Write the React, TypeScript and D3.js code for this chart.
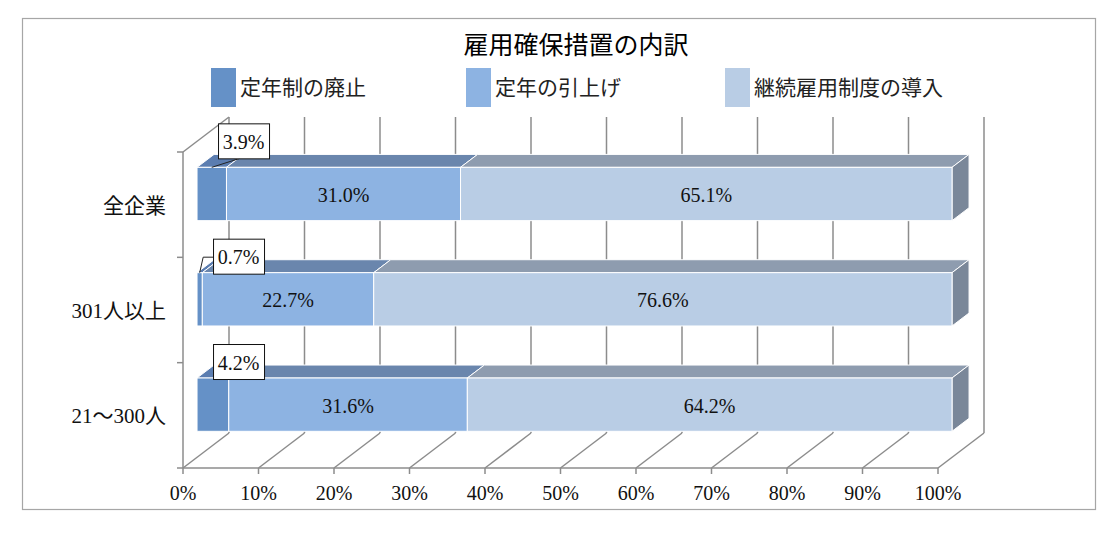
import React from "react";
import * as d3 from "d3";

// 雇用確保措置の内訳 (%)
const categories = ["全企業", "301人以上", "21～300人"];
const seriesNames = ["定年制の廃止", "定年の引上げ", "継続雇用制度の導入"];
const abolition = [3.9, 0.7, 4.2];
const raiseAge = [31.0, 22.7, 31.6];
const continued = [65.1, 76.6, 64.2];
const xTicks = [0, 10, 20, 30, 40, 50, 60, 70, 80, 90, 100];

const W = 1115;
const H = 533;
const FONT = '"Liberation Serif", "Noto Sans CJK JP", serif';

const frontColors = ["#6591c7", "#8db3e2", "#b9cde5"];
const topColors = ["#5b7db0", "#6a86ad", "#8e9caf"];
const sideColor = "#7a8799";
const gridColor = "#8c8c8c";

// 3D box: front plane, depth offset to the back wall
const DX = 46;
const DY = -35;
const T0 = 0.305; // bar front depth
const T1 = 0.675; // bar back depth

const App = () => {
  const x = d3.scaleLinear().domain([0, 100]).range([183, 938]);
  const y = d3.scaleBand<string>().domain(categories).range([152, 468]);
  const floorY = 468;
  const topY = 152;

  const series = [abolition, raiseAge, continued];
  const rows = categories.map((c, i) => {
    let acc = 0;
    return series.map((s, k) => {
      const seg = {cat: c, k, v: s[i], x0: acc, x1: acc + s[i]};
      acc += s[i];
      return seg;
    });
  });

  const barH = y.bandwidth() * 0.506;
  const bdx = DX * (T1 - T0);
  const bdy = DY * (T1 - T0);

  const line = d3.line();
  const poly = (pts: [number, number][]) => line(pts) + "Z";

  return (
    <svg width={W} height={H} style={{display: "block", position: "absolute", left: 0, top: 0}}>
      <rect x={0} y={0} width={W} height={H} fill="#fff"/>
      <rect x={22.5} y={18.5} width={1073} height={491} fill="none" stroke="#a6a6a6" strokeWidth={1.2}/>

      <text x={576} y={45} textAnchor="middle" dominantBaseline="central" fontFamily={FONT} fontSize={25}>
        雇用確保措置の内訳
      </text>

      {/* legend */}
      {seriesNames.map((n, k) => {
        const lx = [211, 466, 725][k];
        return (
          <g key={n}>
            <rect x={lx} y={68} width={25} height={39} fill={frontColors[k]}/>
            <text x={lx + 29} y={88} dominantBaseline="central" fontFamily={FONT} fontSize={21} fill="#222">{n}</text>
          </g>
        );
      })}

      {/* walls and gridlines */}
      <g stroke={gridColor} strokeWidth={1.5} fill="none">
        {xTicks.map(t => (
          <g key={t}>
            <line x1={x(t) + DX} x2={x(t) + DX} y1={topY + DY} y2={floorY + DY}/>
            <line x1={x(t) + DX} x2={x(t)} y1={floorY + DY} y2={floorY}/>
            <line x1={x(t)} x2={x(t)} y1={floorY} y2={floorY + 6}/>
          </g>
        ))}
        <line x1={x(0)} x2={x(100)} y1={floorY} y2={floorY}/>
        <line x1={x(0)} x2={x(0)} y1={topY} y2={floorY}/>
        <line x1={x(0)} x2={x(0) + DX} y1={topY} y2={topY + DY}/>
        {[0, 1, 2, 3].map(i => {
          const yy = topY + i * y.bandwidth();
          return <line key={i} x1={x(0) - 6} x2={x(0)} y1={yy} y2={yy}/>;
        })}
      </g>

      {/* x tick labels */}
      {xTicks.map(t => (
        <text key={t} x={x(t)} y={500} textAnchor="middle" fontFamily={FONT} fontSize={20} fill="#111">{t}%</text>
      ))}

      {/* category labels */}
      {categories.map(c => (
        <text key={c} x={166} y={(y(c) as number) + y.bandwidth() / 2 + 1} textAnchor="end"
              dominantBaseline="central" fontFamily={FONT} fontSize={21} fill="#111">{c}</text>
      ))}

      {/* bars */}
      {rows.map((segs, i) => {
        const cy = (y(categories[i]) as number) + y.bandwidth() / 2 + DY * T0;
        const yt = cy - barH / 2;
        const yb = cy + barH / 2;
        const off = DX * T0;
        const last = segs[segs.length - 1];
        const xr = x(last.x1) + off;
        return (
          <g key={i} stroke="#fff" strokeWidth={1}>
            {segs.map(s => {
              const a = x(s.x0) + off;
              const b = x(s.x1) + off;
              return (
                <path key={"t" + s.k} fill={topColors[s.k]}
                      d={poly([[a, yt], [b, yt], [b + bdx, yt + bdy], [a + bdx, yt + bdy]])}/>
              );
            })}
            <path fill={sideColor} d={poly([[xr, yt], [xr + bdx, yt + bdy], [xr + bdx, yb + bdy], [xr, yb]])}/>
            {segs.map(s => {
              const a = x(s.x0) + off;
              const b = x(s.x1) + off;
              return <rect key={"f" + s.k} x={a} y={yt} width={b - a} height={yb - yt} fill={frontColors[s.k]}/>;
            })}
          </g>
        );
      })}

      {/* data labels */}
      {rows.map((segs, i) => {
        const cy = (y(categories[i]) as number) + y.bandwidth() / 2 + DY * T0;
        const yt = cy - barH / 2;
        const off = DX * T0;
        return (
          <g key={i}>
            {segs.map(s => {
              const a = x(s.x0) + off;
              const b = x(s.x1) + off;
              const label = s.v.toFixed(1) + "%";
              if (s.k > 0) {
                return (
                  <text key={s.k} x={(a + b) / 2} y={cy + 1} textAnchor="middle" dominantBaseline="central"
                        fontFamily={FONT} fontSize={20} fill="#111">{label}</text>
                );
              }
              // small first segment: boxed label above the bar
              const nudge = i === 0 ? [5, -10] : [0, 0];
              const bw = 51, bh = 35;
              const bx = a + 16 + nudge[0];
              const by = yt + 1 + nudge[1] - bh;
              const mid = (a + b) / 2;
              let leader = null;
              if (i === 0) leader = <path d={line([[mid, yt], [bx + 22, by + bh]]) as string} stroke="#222" fill="none"/>;
              if (i === 1) leader = <path d={line([[mid, yt], [mid + 3.5, by + bh / 2 + 1], [bx, by + bh / 2 + 1]]) as string} stroke="#222" fill="none"/>;
              return (
                <g key={s.k}>
                  {leader}
                  <rect x={bx + 0.5} y={by + 0.5} width={bw} height={bh} fill="#fff" stroke="#111" strokeWidth={1}/>
                  <text x={bx + bw / 2} y={by + bh / 2 + 1} textAnchor="middle" dominantBaseline="central"
                        fontFamily={FONT} fontSize={20} fill="#111">{label}</text>
                </g>
              );
            })}
          </g>
        );
      })}
    </svg>
  );
};

export default App;
